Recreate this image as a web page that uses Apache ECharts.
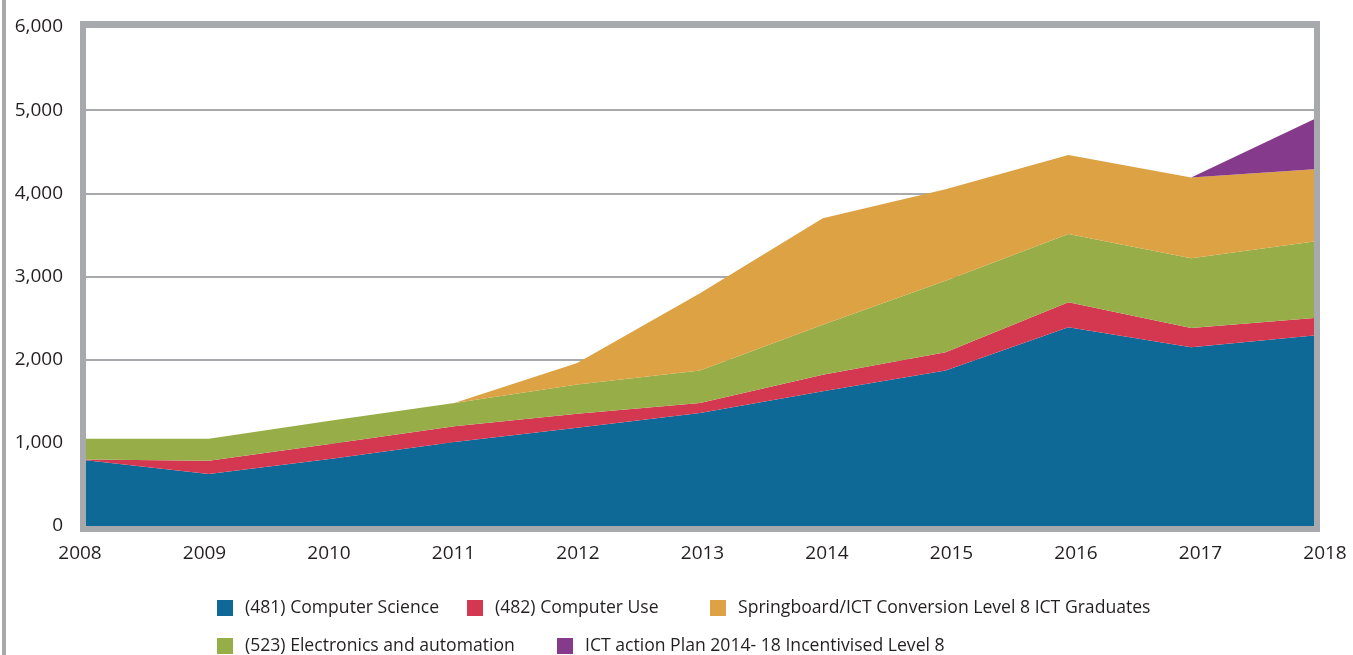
<!DOCTYPE html>
<html>
<head>
<meta charset="utf-8">
<script src="https://cdn.jsdelivr.net/npm/echarts@6/dist/echarts.min.js"></script>
<style>
html,body{margin:0;padding:0;background:#fff;}
#chart{width:1353px;height:655px;}
</style>
</head>
<body>
<div id="chart"></div>
<script>
const years = ['2008','2009','2010','2011','2012','2013','2014','2015','2016','2017','2018'];
const seriesNames = [
  '(481) Computer Science',
  '(482) Computer Use',
  'Springboard/ICT Conversion Level 8 ICT Graduates',
  '(523) Electronics and automation',
  'ICT action Plan 2014- 18 Incentivised Level 8'
];
const computerScience = [790, 625, 810, 1010, 1180, 1360, 1620, 1870, 2390, 2150, 2290];
const computerUse     = [10, 160, 180, 190, 170, 120, 200, 220, 300, 230, 210];
const electronics     = [250, 265, 280, 280, 350, 390, 600, 860, 820, 840, 920];
const springboard     = [0, 0, 0, 0, 260, 930, 1280, 1100, 950, 970, 870];
const ictActionPlan   = [0, 0, 0, 0, 0, 0, 0, 0, 0, 0, 600];
const yTicks = [0, 1000, 2000, 3000, 4000, 5000, 6000];

const colors = {
  cs: '#0e6996', cu: '#d43851', sb: '#dca243', el: '#97ae48', ict: '#863a8b'
};
const textColor = '#231f20';
const font = 'Open Sans';

const chart = echarts.init(document.getElementById('chart'), null, {renderer: 'canvas'});

function areaSeries(name, data, color) {
  return {
    name: name, type: 'line', stack: 'total', data: data,
    xAxisIndex: 0, yAxisIndex: 0,
    symbol: 'none', smooth: false,
    lineStyle: {width: 0, color: color},
    itemStyle: {color: color},
    areaStyle: {color: color, opacity: 1},
    emphasis: {disabled: true}
  };
}

function legendItem(name, color, left, top) {
  return {
    data: [{name: name, icon: 'rect', itemStyle: {color: color}}],
    left: left, top: top, padding: 0,
    itemWidth: 16, itemHeight: 16,
    selectedMode: false,
    textStyle: {fontFamily: font, fontSize: 17.6, color: textColor, padding: [0, 0, 0, 7]}
  };
}

const option = {
  animation: false,
  backgroundColor: '#ffffff',
  grid: [
    {left: 86, top: 27, right: 39, bottom: 129, containLabel: false},
    {left: 80, top: 27, right: 28, bottom: 129, containLabel: false}
  ],
  xAxis: [
    {
      type: 'category', data: years, boundaryGap: false, gridIndex: 0,
      axisLine: {show: false}, axisTick: {show: false}, axisLabel: {show: false}
    },
    {
      type: 'category', data: years, boundaryGap: false, gridIndex: 1,
      axisLine: {show: false}, axisTick: {show: false}, splitLine: {show: false},
      axisLabel: {fontFamily: font, fontSize: 19, color: textColor, margin: 18, interval: 0}
    }
  ],
  yAxis: [
    {
      type: 'value', min: yTicks[0], max: yTicks[yTicks.length - 1], interval: 1000, gridIndex: 0,
      axisLine: {show: false}, axisTick: {show: false},
      axisLabel: {
        fontFamily: font, fontSize: 19, color: textColor, margin: 23,
        formatter: v => v.toLocaleString('en-US')
      },
      splitLine: {show: true, lineStyle: {color: '#a7a9ac', width: 2}}
    },
    {
      type: 'value', min: 0, max: 6000, gridIndex: 1, show: false
    }
  ],
  legend: [
    legendItem(seriesNames[0], colors.cs, 217, 599),
    legendItem(seriesNames[1], colors.cu, 467, 599),
    legendItem(seriesNames[2], colors.sb, 710, 599),
    legendItem(seriesNames[3], colors.el, 217, 637),
    legendItem(seriesNames[4], colors.ict, 557, 637)
  ],
  series: [
    areaSeries(seriesNames[0], computerScience, colors.cs),
    areaSeries(seriesNames[1], computerUse, colors.cu),
    areaSeries(seriesNames[3], electronics, colors.el),
    areaSeries(seriesNames[2], springboard, colors.sb),
    areaSeries(seriesNames[4], ictActionPlan, colors.ict)
  ],
  graphic: [
    {type: 'rect', shape: {x: 83, y: 24, width: 1234, height: 505},
     style: {fill: 'none', stroke: '#a7a9ac', lineWidth: 6}, z: 100, silent: true},
    {type: 'rect', shape: {x: 2, y: 0, width: 4, height: 655},
     style: {fill: '#a7a9ac'}, z: 100, silent: true}
  ]
};
chart.setOption(option);
</script>
</body>
</html>
